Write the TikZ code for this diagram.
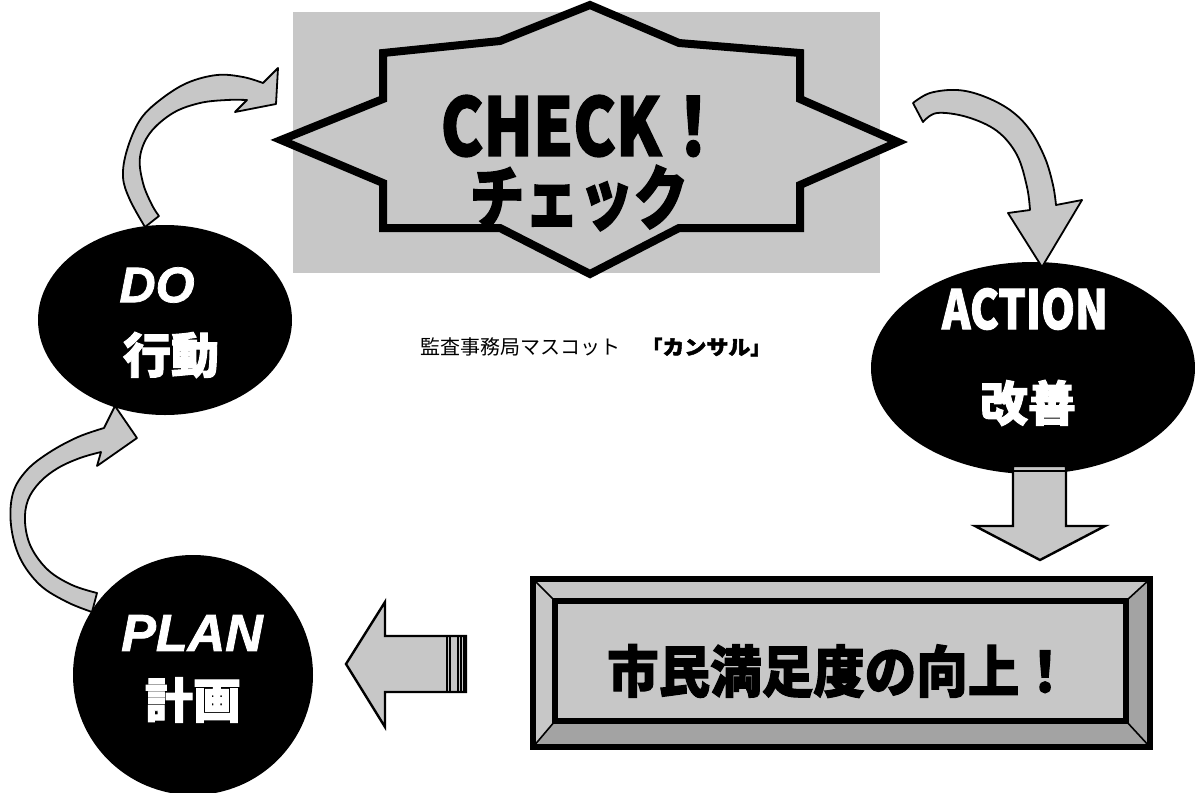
\documentclass[tikz,border=0pt]{standalone}
\usepackage{fontspec}
\newfontfamily\jp{Noto Sans CJK JP}
\newfontfamily\jpb{Noto Sans CJK JP}[BoldFeatures={FakeBold=2}]
\newfontfamily\lsans{Liberation Sans}[BoldItalicFeatures={FakeBold=1.5}]
\definecolor{halftone}{gray}{0.78}
\definecolor{bevdark}{gray}{0.64}
\tikzset{
  panel/.style={fill=halftone},
  burst/.style={fill=halftone, draw=black, line width=4pt, line join=miter, miter limit=12},
  blob/.style={fill=black},
  curvearrow/.style={fill=halftone, draw=black, line width=0.9pt, line join=round},
  blockarrow/.style={fill=halftone, draw=black, line width=1.2pt, line join=miter},
  whitetxt/.style={text=white, inner sep=0pt},
  blacktxt/.style={text=black, inner sep=0pt},
}
\begin{document}
\begin{tikzpicture}[x=0.5pt,y=-0.5pt]
\useasboundingbox (0,0) rectangle (1195,793);

% ---- CHECK panel ----
\fill[panel] (293,12) rectangle (880,273);
\draw[burst] (590,5) -- (679,43) -- (800,53) -- (800,99) -- (898,142) -- (800,185) -- (800,228) -- (679,228) -- (590,274) -- (500,228) -- (383,228) -- (383,183) -- (281,140) -- (383,99) -- (383,53) -- (500,41) -- cycle;
\node[blacktxt] (check) at (583,126) {\fontsize{40}{40}\selectfont\jpb\bfseries\scalebox{0.8}[1]{CHECK！}};
\node[blacktxt] (checkjp) at (579,198) {\fontsize{35}{35}\selectfont\jpb\bfseries\scalebox{0.78}[1]{チェック}};

% ---- DO ----
\fill[blob] (165,320) ellipse [x radius=127, y radius=95];
\node[whitetxt] (do) at (157,285) {\fontsize{25}{25}\selectfont\lsans\bfseries\itshape DO};
\node[whitetxt] (dojp) at (171,355) {\fontsize{24}{24}\selectfont\jpb\bfseries 行動};

% ---- ACTION ----
\fill[blob] (1033,368) ellipse [x radius=162, y radius=106];
\node[whitetxt] (action) at (1025,309) {\fontsize{27}{27}\selectfont\jpb\bfseries\scalebox{0.8}[1]{ACTION}};
\node[whitetxt] (actionjp) at (1028,403) {\fontsize{24}{24}\selectfont\jpb\bfseries 改善};

% ---- PLAN ----
\fill[blob] (193,675) circle [radius=120];
\node[whitetxt] (plan) at (192,633) {\fontsize{26}{26}\selectfont\lsans\bfseries\itshape PLAN};
\node[whitetxt] (planjp) at (193,700) {\fontsize{24}{24}\selectfont\jpb\bfseries 計画};

% ---- mascot caption ----
\node[blacktxt, anchor=west] (mascot) at (420,347) {\fontsize{10}{10}\selectfont\jp 監査事務局マスコット\hspace{1.1em}{\jpb\bfseries 「\scalebox{1.1}[1]{カンサル}」}};

% ---- curved arrows ----
% DO -> CHECK
\filldraw[curvearrow] plot[smooth, tension=0.6] coordinates {(145,227) (130,200) (123,177) (127,150) (140,120) (160,100) (187,83) (217,75) (243,77) (263,83)}
  -- (278,68) -- (276,104) -- (235,112)
  -- plot[smooth, tension=0.6] coordinates {(247,100) (227,100) (200,103) (173,113) (150,133) (140,157) (143,183) (152,205) (159,216)} -- cycle;
% CHECK -> ACTION
\filldraw[curvearrow] plot[smooth, tension=0.6] coordinates {(913,103) (930,93) (957,90) (983,96) (1010,110) (1030,130) (1045,158) (1053,185) (1056,205)}
  -- (1082,200) -- (1042,267) -- (1008,213)
  -- plot[smooth, tension=0.6] coordinates {(1030,210) (1027,187) (1017,155) (997,131) (967,117) (937,113) (923,122)} -- cycle;
% PLAN -> DO
\filldraw[curvearrow] plot[smooth, tension=0.6] coordinates {(92,612) (67,602) (40,585) (20,558) (11,525) (13,493) (27,470) (50,452) (78,437) (104,428)}
  -- (115,406) -- (137,438) -- (97,466)
  -- plot[smooth, tension=0.6] coordinates {(101,452) (80,458) (58,468) (40,482) (28,500) (25,522) (31,547) (48,570) (72,585) (97,593)} -- cycle;

% ---- ACTION -> box (down arrow) ----
\filldraw[blockarrow] (1013,466) -- (1066,466) -- (1066,526) -- (1105,526) -- (1040,560) -- (975,526) -- (1013,526) -- cycle;
\draw[line width=0.8pt] (1013,471) -- (1066,471);

% ---- box -> PLAN (left arrow) ----
\filldraw[blockarrow] (466,636) -- (385,636) -- (385,602) -- (346,664) -- (385,727) -- (385,692) -- (466,692) -- cycle;
\foreach \sx in {447,450,458,461,464} \draw[line width=0.9pt] (\sx,636) -- (\sx,692);

% ---- bevel box ----
\fill[halftone] (533,579) rectangle (1150,747);
\fill[bevdark] (533,747) -- (555,721) -- (1126,721) -- (1150,747) -- cycle;
\fill[bevdark] (1150,579) -- (1126,601) -- (1126,721) -- (1150,747) -- cycle;
\draw[line width=0.8pt] (533,579) -- (555,601) (1150,579) -- (1126,601) (533,747) -- (555,721) (1150,747) -- (1126,721);
\draw[line width=3pt] (533,579) rectangle (1150,747);
\draw[line width=3pt] (555,601) rectangle (1126,721);
\node[blacktxt] (goal) at (839,671) {\fontsize{28}{28}\selectfont\jpb\bfseries\scalebox{0.92}[1]{市民満足度の向上！}};
\end{tikzpicture}
\end{document}
